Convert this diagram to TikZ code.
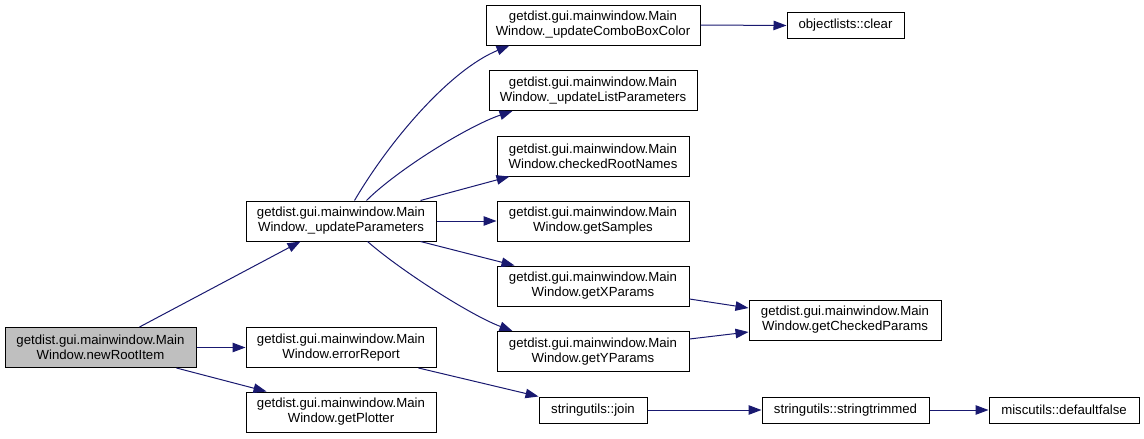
\documentclass[tikz,border=0pt]{standalone}
\usepackage{fontspec}
\setmainfont{Liberation Sans}
\usetikzlibrary{arrows.meta,calc}
\definecolor{edgeblue}{RGB}{25,25,112}
\definecolor{rootgray}{RGB}{191,191,191}
\tikzset{
  fn/.style={draw=black, line width=1pt, fill=white, inner sep=0pt, align=center,
    font=\fontsize{13.2}{15}\selectfont, minimum height=40pt},
  fnone/.style={fn, minimum height=26pt},
  call/.style={draw=edgeblue, line width=1pt, -{Triangle[length=13pt,width=9.5pt]}},
}
\begin{document}
\begin{tikzpicture}[x=1pt,y=-1pt]
\useasboundingbox (0,0) rectangle (1144,439);
\node[fn, fill=rootgray, minimum width=191pt] (A) at (100.5,347.5) {getdist.gui.mainwindow.Main\\Window.newRootItem};
\node[fn, minimum width=190pt] (B) at (341,221) {getdist.gui.mainwindow.Main\\Window.\_updateParameters};
\node[fn, minimum width=190pt] (C) at (341,347.5) {getdist.gui.mainwindow.Main\\Window.errorReport};
\node[fn, minimum width=190pt] (D) at (341,412) {getdist.gui.mainwindow.Main\\Window.getPlotter};
\node[fn, minimum width=214pt] (E) at (593,25) {getdist.gui.mainwindow.Main\\Window.\_updateComboBoxColor};
\node[fn, minimum width=208pt] (F) at (593,90.5) {getdist.gui.mainwindow.Main\\Window.\_updateListParameters};
\node[fn, minimum width=192pt] (G) at (593,156) {getdist.gui.mainwindow.Main\\Window.checkedRootNames};
\node[fn, minimum width=192pt] (H) at (593,221) {getdist.gui.mainwindow.Main\\Window.getSamples};
\node[fn, minimum width=192pt] (I) at (593,286) {getdist.gui.mainwindow.Main\\Window.getXParams};
\node[fn, minimum width=192pt] (J) at (593,351.5) {getdist.gui.mainwindow.Main\\Window.getYParams};
\node[fnone, minimum width=117pt] (K) at (845.5,25.5) {objectlists::clear};
\node[fn, minimum width=192pt] (L) at (845,320) {getdist.gui.mainwindow.Main\\Window.getCheckedParams};
\node[fnone, minimum width=108pt] (M) at (593,410) {stringutils::join};
\node[fnone, minimum width=167pt] (N) at (845.5,410) {stringutils::stringtrimmed};
\node[fnone, minimum width=150pt] (O) at (1064,410) {miscutils::defaultfalse};

\draw[call] ($(A.north west)+(135,0)$) -- ($(B.south west)+(55,0)$);
\draw[call] (A.east) -- (C.west);
\draw[call] ($(A.south west)+(172,0)$) -- ($(D.north west)+(21,0)$);
\draw[call] ($(B.north west)+(109,0)$) .. controls (390,140) and (450,70) .. ($(E.south west)+(24,0)$);
\draw[call] ($(B.north west)+(121,0)$) .. controls (397,170) and (468,126) .. ($(F.south west)+(24,0)$);
\draw[call] ($(B.north east)+(-16,0)$) -- ($(G.south west)+(13,0)$);
\draw[call] (B.east) -- (H.west);
\draw[call] ($(B.south east)+(-16,0)$) -- ($(I.north west)+(18,0)$);
\draw[call] ($(B.south west)+(122,0)$) .. controls (400,270) and (470,315) .. ($(J.north west)+(16,0)$);
\draw[call] (E.east) -- (K.west);
\draw[call] ($(I.east)+(0,13)$) -- ($(L.west)+(0,-12)$);
\draw[call] ($(J.east)+(0,-12.5)$) -- ($(L.west)+(0,12)$);
\draw[call] ($(C.south east)+(-18,0)$) -- (M.north west);
\draw[call] (M.east) -- (N.west);
\draw[call] (N.east) -- (O.west);
\end{tikzpicture}
\end{document}
